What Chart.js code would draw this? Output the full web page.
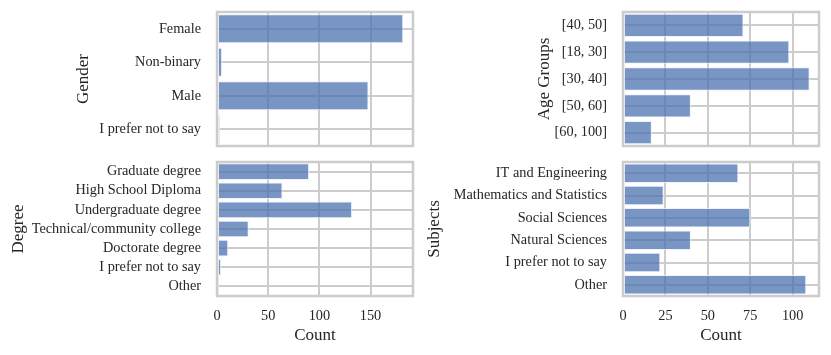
<!DOCTYPE html>
<html>
<head>
<meta charset="utf-8">
<script src="https://cdn.jsdelivr.net/npm/chart.js@4/dist/chart.umd.min.js"></script>
<style>
  html, body { margin: 0; padding: 0; background: #ffffff; }
  #wrap { position: relative; width: 831px; height: 355px; }
  canvas { position: absolute; left: 0; top: 0; }
</style>
</head>
<body>
<div id="wrap">
  <canvas id="c1" width="831" height="355"></canvas>
  <canvas id="c2" width="831" height="355"></canvas>
  <canvas id="c3" width="831" height="355"></canvas>
  <canvas id="c4" width="831" height="355"></canvas>
</div>
<script>
// ---- data ----
const genderLabels = ["Female", "Non-binary", "Male", "I prefer not to say"];
const genderCounts = [182, 5, 148, 3];

const degreeLabels = ["Graduate degree", "High School Diploma", "Undergraduate degree",
  "Technical/community college", "Doctorate degree", "I prefer not to say", "Other"];
const degreeCounts = [90, 64, 132, 31, 11, 4, 2];

const ageLabels = ["[40, 50]", "[18, 30]", "[30, 40]", "[50, 60]", "[60, 100]"];
const ageCounts = [71, 98, 110, 40, 17];

const subjectLabels = ["IT and Engineering", "Mathematics and Statistics", "Social Sciences",
  "Natural Sciences", "I prefer not to say", "Other"];
const subjectCounts = [68, 24, 75, 40, 22, 108];

const leftTicks = [0, 50, 100, 150];
const rightTicks = [0, 25, 50, 75, 100];

// ---- styling ----
const FONT = "'Liberation Serif', 'DejaVu Serif', serif";
const TEXT = '#262626';
const GRID = '#cccccc';
const BAR = 'rgba(76,114,176,0.75)';
const EDGE = 'rgba(235,241,250,0.9)';
const TICK_SIZE = 14.3;
const TITLE_SIZE = 17;

const framePlugin = {
  id: 'frame',
  afterDatasetsDraw(chart) {
    const a = chart.chartArea, ctx = chart.ctx;
    ctx.save();
    ctx.strokeStyle = GRID;
    ctx.lineWidth = 2.5;
    ctx.strokeRect(a.left, a.top, a.right - a.left, a.bottom - a.top);
    ctx.restore();
  }
};

function makeChart(id, labels, counts, cfg) {
  const showX = cfg.showX;
  new Chart(document.getElementById(id), {
    type: 'bar',
    data: {
      labels: labels,
      datasets: [{
        data: counts,
        backgroundColor: BAR,
        borderColor: EDGE,
        borderWidth: 1,
        borderSkipped: false,
        barPercentage: 0.87,
        categoryPercentage: 1.0
      }]
    },
    options: {
      indexAxis: 'y',
      responsive: false,
      animation: false,
      devicePixelRatio: 1,
      layout: { padding: cfg.padding },
      plugins: { legend: { display: false }, tooltip: { enabled: false } },
      scales: {
        x: {
          type: 'linear',
          min: 0,
          max: cfg.xmax,
          afterBuildTicks: (s) => { s.ticks = cfg.ticks.map(v => ({ value: v })); },
          afterFit: (s) => { s.height = cfg.xh; s.paddingLeft = 0; s.paddingRight = 0; },
          border: { display: false },
          grid: { color: GRID, lineWidth: 2, drawTicks: false },
          ticks: {
            display: showX,
            padding: 12,
            color: TEXT,
            font: { family: FONT, size: TICK_SIZE },
            callback: (v) => String(v)
          },
          title: {
            display: showX,
            text: 'Count',
            color: TEXT,
            padding: 0,
            font: { family: FONT, size: TITLE_SIZE }
          }
        },
        y: {
          type: 'category',
          offset: true,
          afterFit: (s) => { s.width = cfg.yw; s.paddingTop = 0; s.paddingBottom = 0; },
          border: { display: false },
          grid: { color: GRID, lineWidth: 2, drawTicks: false, offset: false },
          ticks: {
            padding: 16,
            color: TEXT,
            font: { family: FONT, size: TICK_SIZE },
            autoSkip: false
          },
          title: {
            display: true,
            text: cfg.title,
            color: TEXT,
            padding: 0,
            font: { family: FONT, size: TITLE_SIZE }
          }
        }
      }
    },
    plugins: [framePlugin]
  });
}

// top-left: Gender
makeChart('c1', genderLabels, genderCounts, {
  title: 'Gender', showX: false, xmax: 191.5, ticks: leftTicks,
  padding: { left: 73, right: 418, top: 12, bottom: 209 }, yw: 144, xh: 0
});
// bottom-left: Degree
makeChart('c2', degreeLabels, degreeCounts, {
  title: 'Degree', showX: true, xmax: 191.5, ticks: leftTicks,
  padding: { left: 8, right: 418, top: 162, bottom: 9 }, yw: 209, xh: 50
});
// top-right: Age Groups
makeChart('c3', ageLabels, ageCounts, {
  title: 'Age Groups', showX: false, xmax: 115.5, ticks: rightTicks,
  padding: { left: 534, right: 12, top: 12, bottom: 209 }, yw: 89, xh: 0
});
// bottom-right: Subjects
makeChart('c4', subjectLabels, subjectCounts, {
  title: 'Subjects', showX: true, xmax: 115.5, ticks: rightTicks,
  padding: { left: 424, right: 12, top: 162, bottom: 9 }, yw: 199, xh: 50
});
</script>
</body>
</html>
